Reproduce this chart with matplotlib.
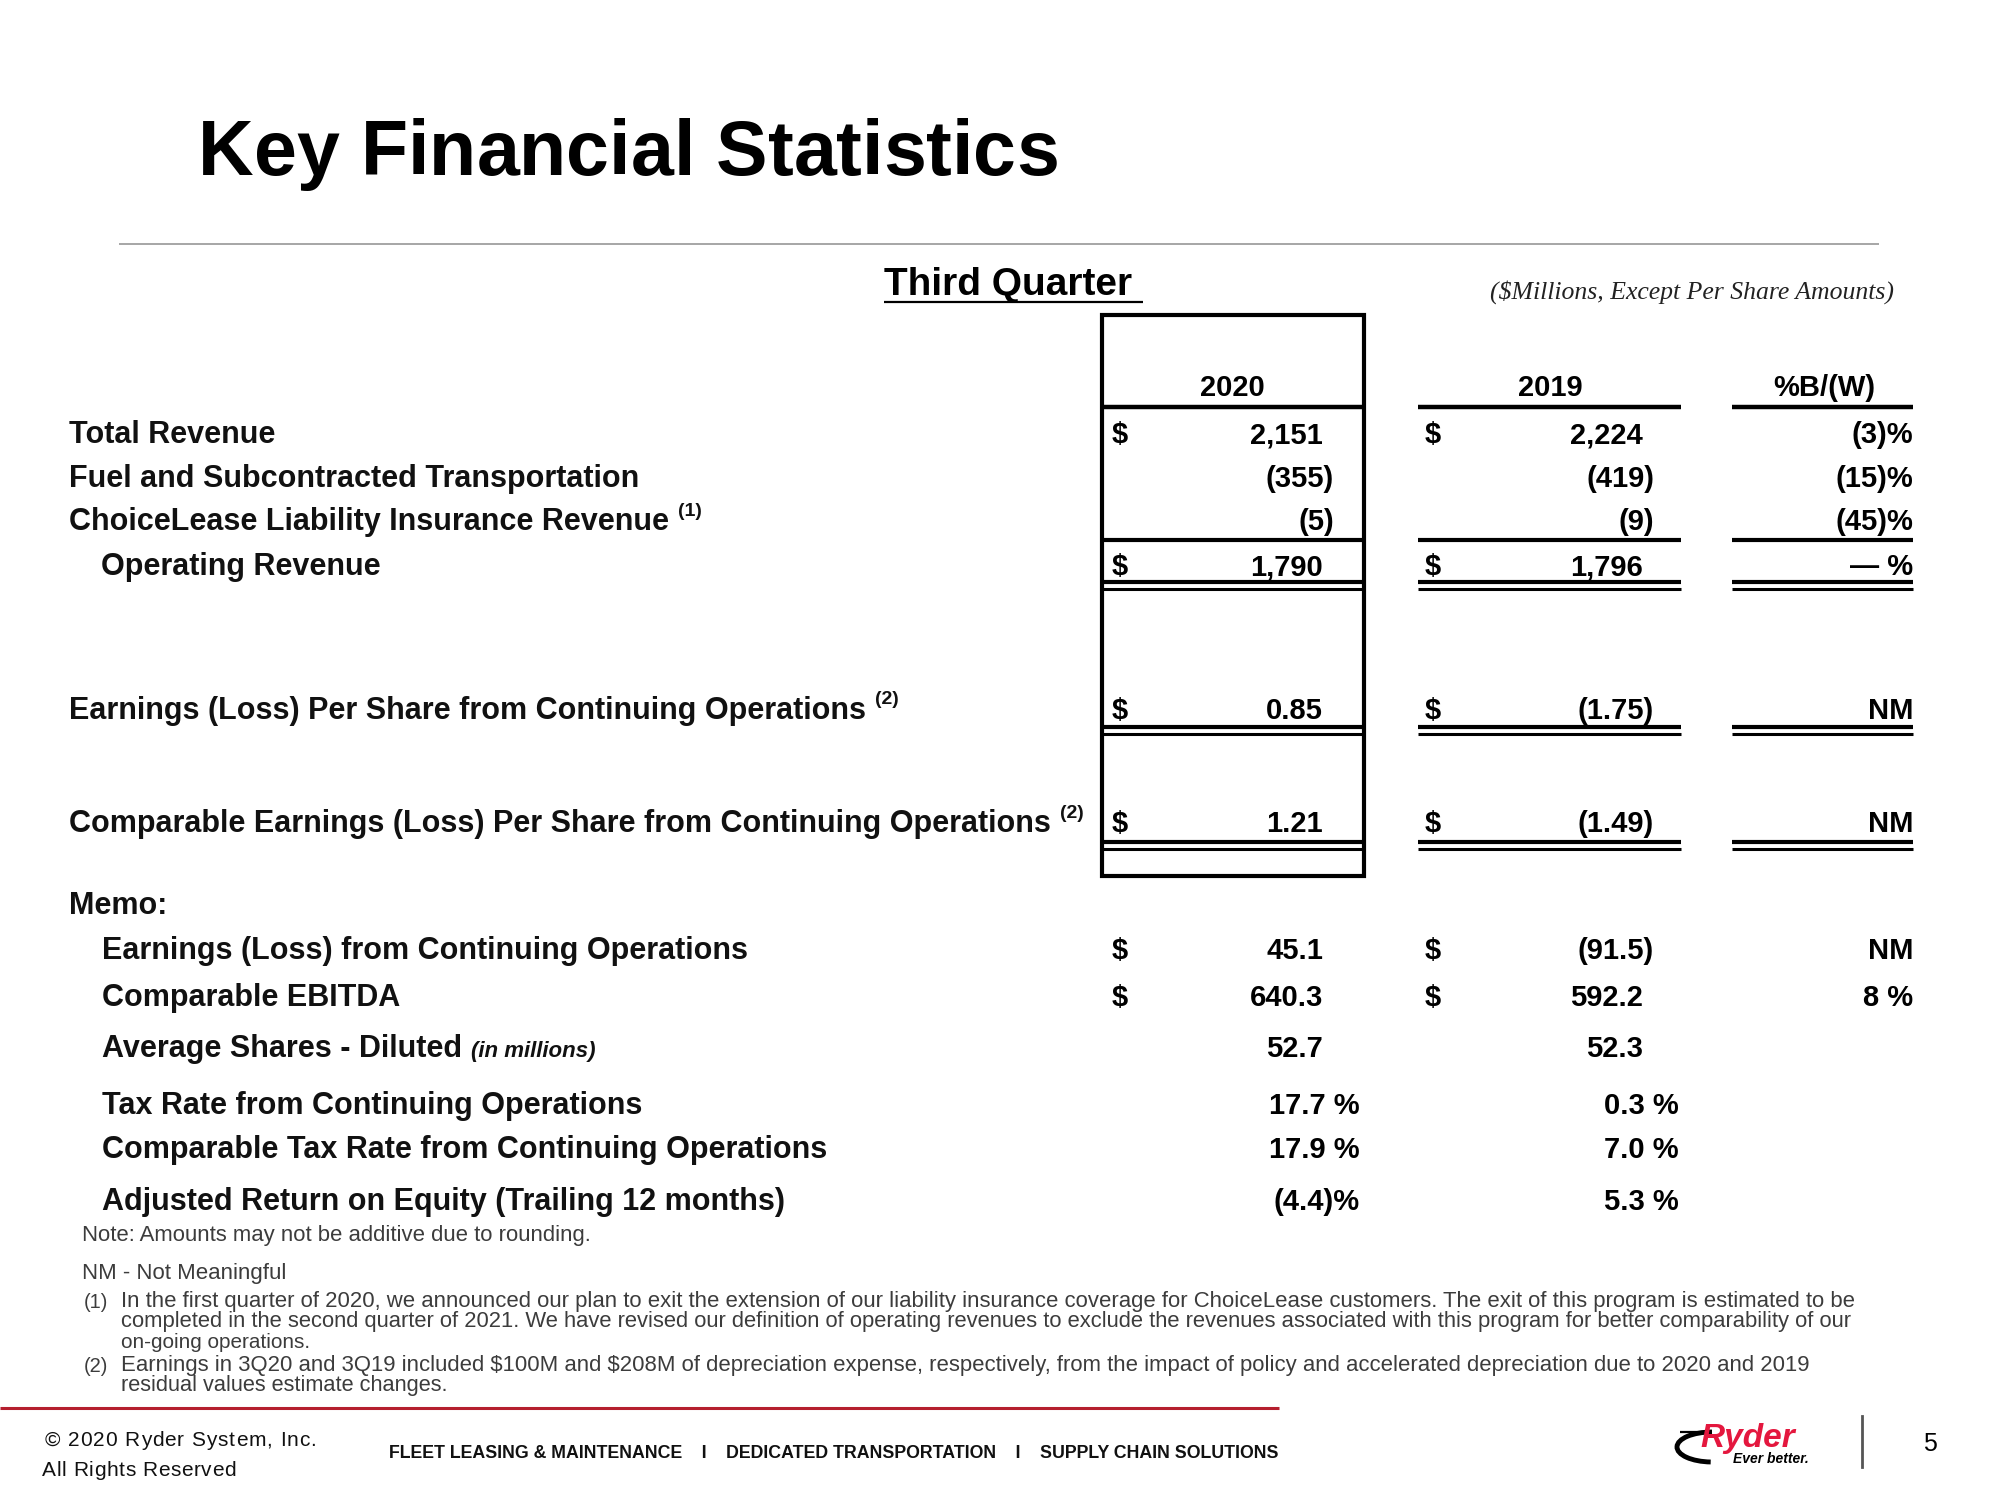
"""
Key Financial Statistics slide (Third Quarter 2020 vs 2019), drawn as a table with matplotlib text.
"""

import matplotlib
matplotlib.use("Agg")
import matplotlib.pyplot as plt
from matplotlib.patches import Rectangle, Arc

# ---------------------------------------------------------------
# Table data
# ---------------------------------------------------------------
col_headers = ["2020", "2019", "%B/(W)"]

main_labels = ["Total Revenue", "Fuel and Subcontracted Transportation",
               "ChoiceLease Liability Insurance Revenue", "Operating Revenue"]
main_notes = ["", "", "(1)", ""]
main_2020 = ["2,151", "(355)", "(5)", "1,790"]
main_2019 = ["2,224", "(419)", "(9)", "1,796"]
main_pct = ["(3)%", "(15)%", "(45)%", "\u2014 %"]
main_dollar = [True, False, False, True]

eps_labels = ["Earnings (Loss) Per Share from Continuing Operations",
              "Comparable Earnings (Loss) Per Share from Continuing Operations"]
eps_notes = ["(2)", "(2)"]
eps_2020 = ["0.85", "1.21"]
eps_2019 = ["(1.75)", "(1.49)"]
eps_pct = ["NM", "NM"]

memo_labels = ["Earnings (Loss) from Continuing Operations", "Comparable EBITDA",
               "Average Shares - Diluted", "Tax Rate from Continuing Operations",
               "Comparable Tax Rate from Continuing Operations",
               "Adjusted Return on Equity (Trailing 12 months)"]
memo_2020 = ["45.1", "640.3", "52.7", "17.7 %", "17.9 %", "(4.4)%"]
memo_2019 = ["(91.5)", "592.2", "52.3", "0.3 %", "7.0 %", "5.3 %"]
memo_pct = ["NM", "8 %", "", "", "", ""]
memo_dollar = [True, True, False, False, False, False]

footnote_1 = ["In the first quarter of 2020, we announced our plan to exit the extension of our liability insurance coverage for ChoiceLease customers. The exit of this program is estimated to be",
              "completed in the second quarter of 2021. We have revised our definition of operating revenues to exclude the revenues associated with this program for better comparability of our",
              "on-going operations."]
footnote_2 = ["Earnings in 3Q20 and 3Q19 included $100M and $208M of depreciation expense, respectively, from the impact of policy and accelerated depreciation due to 2020 and 2019",
              "residual values estimate changes."]

# ---------------------------------------------------------------
# Canvas: one axes in pixel units (2000 x 1500, y down)
# ---------------------------------------------------------------
W, H = 2000, 1500
fig = plt.figure(figsize=(20, 15), dpi=100)
ax = fig.add_axes([0, 0, 1, 1])
ax.set_xlim(0, W)
ax.set_ylim(H, 0)
ax.axis("off")
renderer = fig.canvas.get_renderer()

SANS = ["Liberation Sans", "DejaVu Sans"]
LABEL_SIZE = 22


def txt(x, y, s, size, **kw):
    kw.setdefault("family", SANS)
    kw.setdefault("va", "center")
    return ax.text(x, y, s, fontsize=size, parse_math=False, **kw)


def width_of(t):
    return t.get_window_extent(renderer).width


def fit(x, y, s, target, size, **kw):
    # scale font size so the line spans the target width
    t = txt(x, y, s, size, **kw)
    t.set_fontsize(size * target / width_of(t))
    return t


def spaced(x, y, s, target, size, **kw):
    # letter-spaced text stretched to the target width
    probe = txt(0, 0, "a", size, **kw)
    widths = []
    for ch in s:
        if ch == " ":
            probe.set_text("a a"); a = width_of(probe)
            probe.set_text("aa"); b = width_of(probe)
            widths.append(a - b)
        else:
            probe.set_text(ch)
            widths.append(width_of(probe))
    probe.remove()
    natural = sum(widths)
    gap = (target - natural) / max(len(s) - 1, 1)
    if gap < 0:
        size *= target / natural
        widths = [w * target / natural for w in widths]
        gap = 0
    cx = x
    for ch, w in zip(s, widths):
        if ch != " ":
            txt(cx, y, ch, size, ha="left", **kw)
        cx += w + gap


def hline(x0, x1, y, lw=2.8, color="black"):
    ax.plot([x0, x1], [y, y], color=color, lw=lw, solid_capstyle="butt")


def value(x_right, y, s, size=21):
    # accounting alignment: closing parens hang past the digit column
    if s.endswith(")"):
        x_right += 11
    txt(x_right, y, s, size, ha="right", weight="bold")


def label(x, y, s):
    return txt(x, y, s, LABEL_SIZE, ha="left", weight="bold", color="#111111")


def superscript(label_text, y, note):
    x1 = label_text.get_window_extent(renderer).x1
    txt(x1 + 9, y - 11, note, 14, ha="left", weight="bold", color="#111111")


# ---------------------------------------------------------------
# Header
# ---------------------------------------------------------------
spaced(198, 175, "Key Financial Statistics", 861, 56, weight="bold", va="baseline", color="black")
hline(119, 1879, 244, lw=1.4, color="#a6a6a6")

fit(884, 285, "Third Quarter", 247, 25, weight="bold", ha="left")
hline(884, 1143, 302, lw=1.6)
fit(1894, 292, "($Millions, Except Per Share Amounts)", 405, 17, ha="right",
    style="italic", family=["Liberation Serif", "DejaVu Serif"], color="#222222")

# column geometry
box_l, box_r = 1102, 1364
c19_l, c19_r = 1418, 1681
cp_l, cp_r = 1732, 1913
x20_dollar, x19_dollar = 1112, 1425
x20_val, x19_val, xp_val = 1323, 1643, 1913
x20_pct, x19_pct = 1360, 1679

ax.add_patch(Rectangle((box_l, 315), box_r - box_l, 876 - 315, fill=False, lw=3.0,
                       edgecolor="black"))

for x, hdr in zip([1232, 1550, 1824], col_headers):
    txt(x, 388, hdr, 21, ha="center", weight="bold")
for x0, x1 in [(box_l, box_r), (c19_l, c19_r), (cp_l, cp_r)]:
    hline(x0, x1, 407, lw=3.2)

# ---------------------------------------------------------------
# Revenue block
# ---------------------------------------------------------------
main_y = [435, 479, 522, 567]
for i, (lab, y) in enumerate(zip(main_labels, main_y)):
    indent = 101 if lab == "Operating Revenue" else 69
    t = label(indent, y, lab)
    if main_notes[i]:
        superscript(t, y, main_notes[i])
    if main_dollar[i]:
        txt(x20_dollar, y, "$", 21, ha="left", weight="bold")
        txt(x19_dollar, y, "$", 21, ha="left", weight="bold")
    value(x20_val, y, main_2020[i])
    value(x19_val, y, main_2019[i])
    txt(xp_val, y, main_pct[i], 21, ha="right", weight="bold")

for x0, x1 in [(box_l, box_r), (c19_l, c19_r), (cp_l, cp_r)]:
    hline(x0, x1, 540, lw=3.0)
    hline(x0, x1, 582, lw=3.0)
    hline(x0, x1, 589, lw=2.2)

# ---------------------------------------------------------------
# EPS block
# ---------------------------------------------------------------
eps_y = [711, 824]
eps_line = [727, 842]
for i, (lab, y) in enumerate(zip(eps_labels, eps_y)):
    t = label(69, y, lab)
    superscript(t, y, eps_notes[i])
    txt(x20_dollar, y, "$", 21, ha="left", weight="bold")
    txt(x19_dollar, y, "$", 21, ha="left", weight="bold")
    value(x20_val, y, eps_2020[i])
    value(x19_val, y, eps_2019[i])
    txt(xp_val, y, eps_pct[i], 21, ha="right", weight="bold")
    for x0, x1 in [(box_l, box_r), (c19_l, c19_r), (cp_l, cp_r)]:
        hline(x0, x1, eps_line[i], lw=3.0)
        hline(x0, x1, eps_line[i] + 7, lw=2.2)

# ---------------------------------------------------------------
# Memo block
# ---------------------------------------------------------------
label(69, 906, "Memo:")
memo_y = [951, 998, 1049, 1106, 1150, 1202]
for i, (lab, y) in enumerate(zip(memo_labels, memo_y)):
    t = label(102, y, lab)
    if lab.startswith("Average Shares"):
        x1 = t.get_window_extent(renderer).x1
        txt(x1 + 9, y + 2, "(in millions)", 16, ha="left", weight="bold", style="italic",
            color="#111111")
    if memo_dollar[i]:
        txt(x20_dollar, y, "$", 21, ha="left", weight="bold")
        txt(x19_dollar, y, "$", 21, ha="left", weight="bold")
    for s, xr, xpct in [(memo_2020[i], x20_val, x20_pct), (memo_2019[i], x19_val, x19_pct)]:
        if s.endswith("%"):
            txt(xpct, y, s, 21, ha="right", weight="bold")
        else:
            value(xr, y, s)
    if memo_pct[i]:
        txt(xp_val, y, memo_pct[i], 21, ha="right", weight="bold")

# ---------------------------------------------------------------
# Notes
# ---------------------------------------------------------------
note_c = "#3c3c3c"
fit(82, 1236, "Note: Amounts may not be additive due to rounding.", 511, 14, ha="left", color=note_c)
fit(82, 1273, "NM - Not Meaningful", 205, 14, ha="left", color=note_c)
txt(84, 1302, "(1)", 14.5, ha="left", color=note_c)
for y, line, target in zip([1302, 1322, 1343], footnote_1, [1739, 1753, 191]):
    fit(121, y, line, target, 14, ha="left", color=note_c)
txt(84, 1366, "(2)", 14.5, ha="left", color=note_c)
for y, line, target in zip([1366, 1386], footnote_2, [1694, 331]):
    fit(121, y, line, target, 14, ha="left", color=note_c)

# ---------------------------------------------------------------
# Footer
# ---------------------------------------------------------------
hline(0, 1279, 1408, lw=2.2, color="#b51f2e")
spaced(45, 1440, "\u00a9 2020 Ryder System, Inc.", 271, 15, color="#111111")
spaced(42, 1470, "All Rights Reserved", 194, 15, color="#111111")
fit(389, 1454, "FLEET LEASING & MAINTENANCE    I    DEDICATED TRANSPORTATION    I    SUPPLY CHAIN SOLUTIONS",
    895, 14, ha="left", weight="bold", color="#111111")

# Ryder logo approximation
ax.add_patch(Arc((1712, 1447), 70, 30, theta1=95, theta2=270, lw=3.5, color="black"))
hline(1680, 1712, 1432, lw=1.6)
txt(1700, 1439, "Ryder", 24, ha="left", weight="bold", style="italic", color="#e4173e")
txt(1733, 1459, "Ever better.", 10, ha="left", weight="bold", style="italic", color="black")

ax.plot([1862, 1862], [1416, 1467], color="#555555", lw=2)
txt(1923, 1444, "5", 18, ha="left", color="black")

fig.savefig("out.png", dpi=100, facecolor="white")
